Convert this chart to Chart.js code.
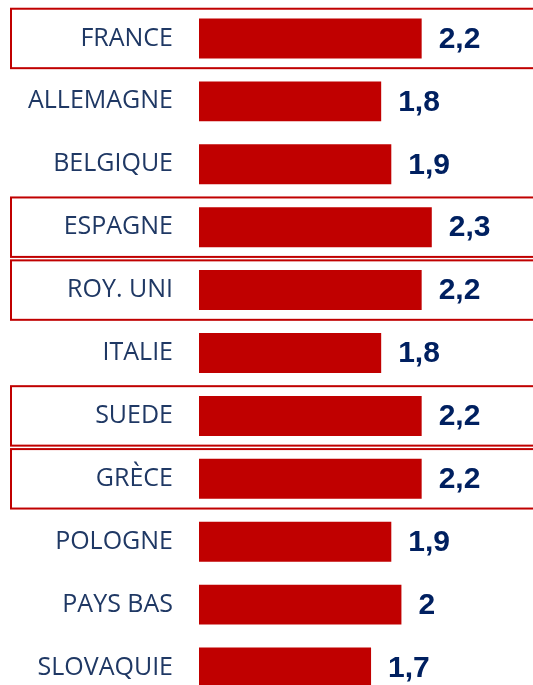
<!DOCTYPE html>
<html>
<head>
<meta charset="utf-8">
<script src="https://cdn.jsdelivr.net/npm/chart.js@4/dist/chart.umd.min.js"></script>
<style>
  html, body { margin: 0; padding: 0; background: #fff; overflow: hidden; }
  canvas { display: block; }
</style>
</head>
<body>
<canvas id="paysChart" width="533" height="700"></canvas>
<script>
// Données
const pays = ['FRANCE', 'ALLEMAGNE', 'BELGIQUE', 'ESPAGNE', 'ROY. UNI', 'ITALIE', 'SUEDE', 'GRÈCE', 'POLOGNE', 'PAYS BAS', 'SLOVAQUIE'];
const valeurs = [2.2, 1.8, 1.9, 2.3, 2.2, 1.8, 2.2, 2.2, 1.9, 2, 1.7];
const encadres = [true, false, false, true, true, false, true, true, false, false, false];

const ROUGE = '#C00000';
const BLEU = '#002060';

// Cadres rouges autour des lignes mises en avant
const cadresPlugin = {
    id: 'cadres',
    beforeDatasetsDraw(chart) {
        const ctx = chart.ctx;
        const y = chart.scales.y;
        const pas = y.getPixelForValue(1) - y.getPixelForValue(0);
        ctx.save();
        ctx.strokeStyle = ROUGE;
        ctx.lineWidth = 2;
        encadres.forEach((on, i) => {
            if (!on) return;
            const cy = y.getPixelForValue(i);
            const h = pas * 0.945;
            ctx.strokeRect(11, cy - h / 2, chart.width + 10, h);
        });
        ctx.restore();
    }
};

// Valeurs au bout des barres
const valeursPlugin = {
    id: 'valeurs',
    afterDatasetsDraw(chart) {
        const ctx = chart.ctx;
        const meta = chart.getDatasetMeta(0);
        ctx.save();
        ctx.fillStyle = BLEU;
        ctx.font = 'bold 30px "Liberation Sans", Arial, sans-serif';
        ctx.textAlign = 'left';
        ctx.textBaseline = 'middle';
        meta.data.forEach((bar, i) => {
            const txt = String(valeurs[i]).replace('.', ',');
            ctx.fillText(txt, bar.x + 17, bar.y + 1);
        });
        ctx.restore();
    }
};

new Chart(document.getElementById('paysChart'), {
    type: 'bar',
    data: {
        labels: pays,
        datasets: [{
            data: valeurs,
            backgroundColor: ROUGE,
            borderWidth: 0,
            barPercentage: 0.635,
            categoryPercentage: 1
        }]
    },
    options: {
        indexAxis: 'y',
        responsive: false,
        animation: false,
        layout: { padding: { top: 7, bottom: 1, left: 0, right: 0 } },
        plugins: {
            legend: { display: false },
            tooltip: { enabled: false }
        },
        scales: {
            x: {
                display: false,
                min: 0,
                max: 3.3
            },
            y: {
                afterFit(scale) {
                    scale.width = 199;
                    // pas de marge verticale due au padding des libellés
                    scale.paddingTop = 0;
                    scale.paddingBottom = 0;
                },
                grid: { display: false, drawTicks: false },
                border: { display: false },
                ticks: {
                    padding: 26,
                    color: '#1F3864',
                    font: { family: '"Open Sans", sans-serif', size: 25 }
                }
            }
        }
    },
    plugins: [cadresPlugin, valeursPlugin]
});
</script>
</body>
</html>
